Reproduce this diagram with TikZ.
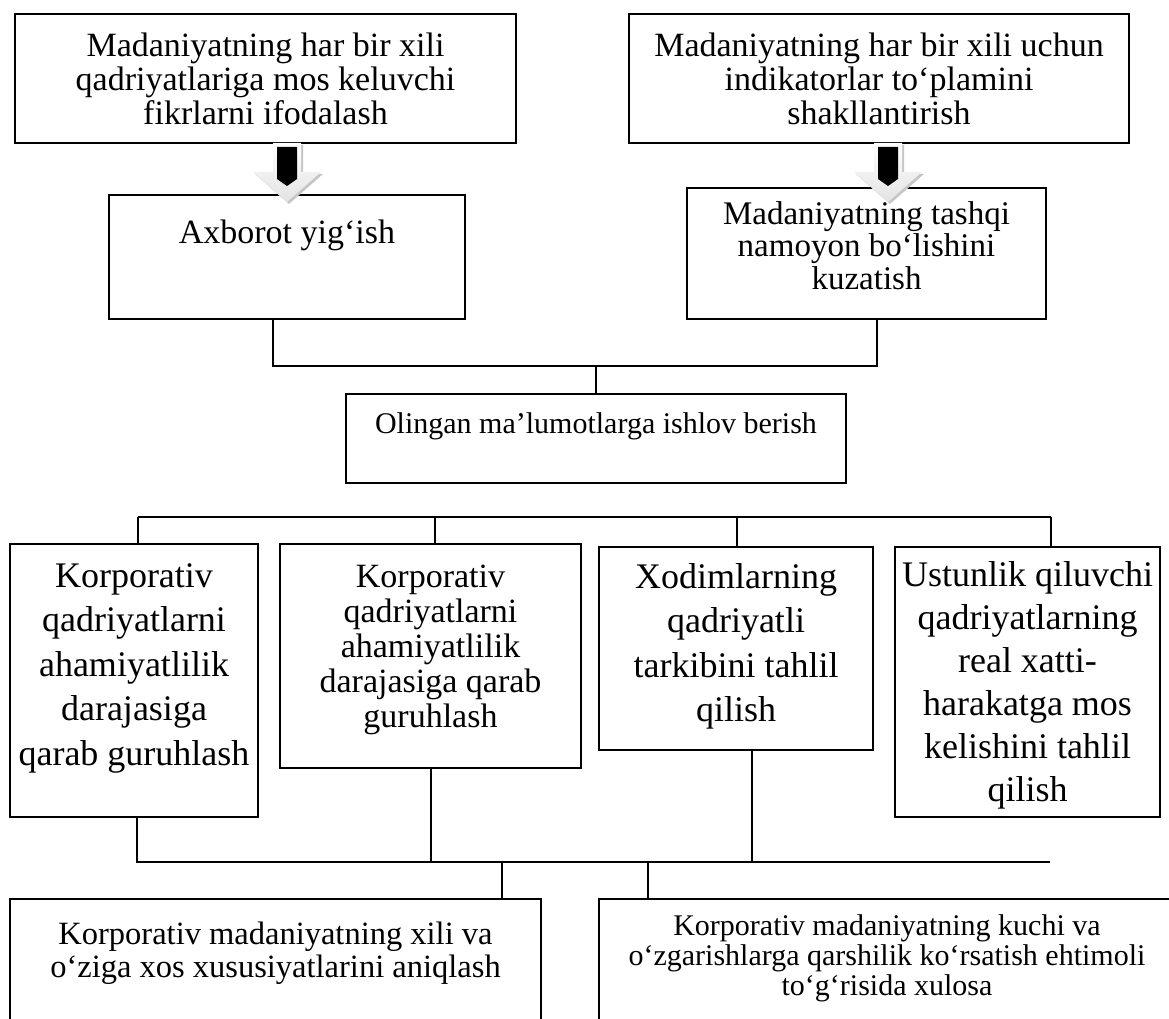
\documentclass[tikz,border=0pt]{standalone}
\usepackage{fontspec}
\setmainfont{Liberation Serif}
\usetikzlibrary{fit,calc}

% a framed panel with its text hanging from the top edge
\newcommand\panel[6]{%
  \node[panel, fit={#2 #3}] (#1) {};
  \node[#4, anchor=north] (#1-t) at ($(#1.north)+(0,#5)$) {#6};
}

% the shaded down arrow with its dark stem
\newcommand\droparrow[3]{%
  \coordinate (#1) at (#2,#3);
  \fill[gray!45] ($(#1)+(-12,2)$) -- ($(#1)+(16,2)$) -- ($(#1)+(16,31)$) -- ($(#1)+(36,31)$)
        -- ($(#1)+(2,61)$) -- ($(#1)+(-32,31)$) -- ($(#1)+(-12,31)$) -- cycle;
  \shade[top color=white, bottom color=gray!22]
        ($(#1)+(-14,0)$) -- ($(#1)+(14,0)$) -- ($(#1)+(14,29)$) -- ($(#1)+(34,29)$)
        -- ($(#1)+(0,59)$) -- ($(#1)+(-34,29)$) -- ($(#1)+(-14,29)$) -- cycle;
  \fill[black] ($(#1)+(-10,4)$) -- ($(#1)+(10,4)$) -- ($(#1)+(10,36)$) -- ($(#1)+(0,43)$)
        -- ($(#1)+(-10,36)$) -- cycle;
}

\begin{document}
\begin{tikzpicture}[x=1pt, y=-1pt,
  panel/.style={draw, line width=1.6pt, inner sep=0pt, fill=white},
  wire/.style={line width=1.6pt},
  fA/.style={font=\fontsize{34}{34}\selectfont, align=center, inner sep=0pt},
  fE/.style={font=\fontsize{30}{33}\selectfont, align=center, inner sep=0pt},
  fD/.style={font=\fontsize{33}{32.5}\selectfont, align=center, inner sep=0pt},
  fBig/.style={font=\fontsize{36}{44.5}\selectfont, align=center, inner sep=0pt},
  fI/.style={font=\fontsize{36}{43}\selectfont, align=center, inner sep=0pt},
  fG/.style={font=\fontsize{34}{35}\selectfont, align=center, inner sep=0pt},
  fJ/.style={font=\fontsize{32.5}{33}\selectfont, align=center, inner sep=0pt},
  fK/.style={font=\fontsize{30}{30}\selectfont, align=center, inner sep=0pt}]

\useasboundingbox (0,0) rectangle (1169,1019);
\clip (0,0) rectangle (1169,1019);
\fill[white] (0,0) rectangle (1169,1019);

% top row
\panel{A}{(15,14)}{(516,143)}{fA}{20}{Madaniyatning har bir xili\\qadriyatlariga mos keluvchi\\fikrlarni ifodalash}
\panel{B}{(629,14)}{(1129,143)}{fA}{20}{Madaniyatning har bir xili uchun\\indikatorlar to‘plamini\\shakllantirish}

% second row
\panel{C}{(109,195)}{(465,319)}{fA}{26}{Axborot yig‘ish}
\panel{D}{(687,188)}{(1046,319)}{fD}{14}{Madaniyatning tashqi\\namoyon bo‘lishini\\kuzatish}

\droparrow{arL}{287}{143}
\droparrow{arR}{888}{143}

% processing step
\panel{E}{(346,394)}{(846,483)}{fE}{19}{Olingan ma’lumotlarga ishlov berish}

% analysis row
\panel{F}{(10,544)}{(258,817)}{fBig}{20}{Korporativ\\qadriyatlarni\\ahamiyatlilik\\darajasiga\\qarab guruhlash}
\panel{G}{(280,544)}{(581,768)}{fG}{22}{Korporativ\\qadriyatlarni\\ahamiyatlilik\\darajasiga qarab\\guruhlash}
\panel{H}{(599,547)}{(873,750)}{fBig}{17}{Xodimlarning\\qadriyatli\\tarkibini tahlil\\qilish}
\panel{I}{(895,547)}{(1160,817)}{fI}{15}{Ustunlik qiluvchi\\qadriyatlarning\\real xatti-\\harakatga mos\\kelishini tahlil\\qilish}

% conclusions
\panel{J}{(10,899)}{(541,1040)}{fJ}{24}{Korporativ madaniyatning xili va\\o‘ziga xos xususiyatlarini aniqlash}
\panel{K}{(599,899)}{(1175,1040)}{fK}{16}{Korporativ madaniyatning kuchi va\\o‘zgarishlarga qarshilik ko‘rsatish ehtimoli\\to‘g‘risida xulosa}

% tap positions of the connectors
\coordinate (j1) at (273,366);
\coordinate (j2) at (877,366);
\coordinate (b2) at (0,517);
\coordinate (xF) at (138,0);
\coordinate (xG) at (435,0);
\coordinate (xH) at (737,0);
\coordinate (xI) at (1051,0);
\coordinate (b3) at (0,862);
\coordinate (uF) at (137,0);
\coordinate (uG) at (431,0);
\coordinate (uH) at (752,0);
\coordinate (dJ) at (502,0);
\coordinate (dK) at (648,0);
\coordinate (e3) at (1050,0);

% C and D joined, feeding E
\draw[wire] (C.south -| j1) |- (j2) -- (D.south -| j2);
\draw[wire] (j1 -| E.north) -- (E.north);

% bus over the analysis row
\draw[wire] (b2 -| xF) -- (b2 -| xI);
\draw[wire] (b2 -| xF) -- (F.north -| xF);
\draw[wire] (b2 -| xG) -- (G.north -| xG);
\draw[wire] (b2 -| xH) -- (H.north -| xH);
\draw[wire] (b2 -| xI) -- (I.north -| xI);

% bus under the analysis row
\draw[wire] (F.south -| uF) |- (b3 -| e3);
\draw[wire] (G.south -| uG) -- (b3 -| uG);
\draw[wire] (H.south -| uH) -- (b3 -| uH);
\draw[wire] (b3 -| dJ) -- (J.north -| dJ);
\draw[wire] (b3 -| dK) -- (K.north -| dK);

\end{tikzpicture}
\end{document}
